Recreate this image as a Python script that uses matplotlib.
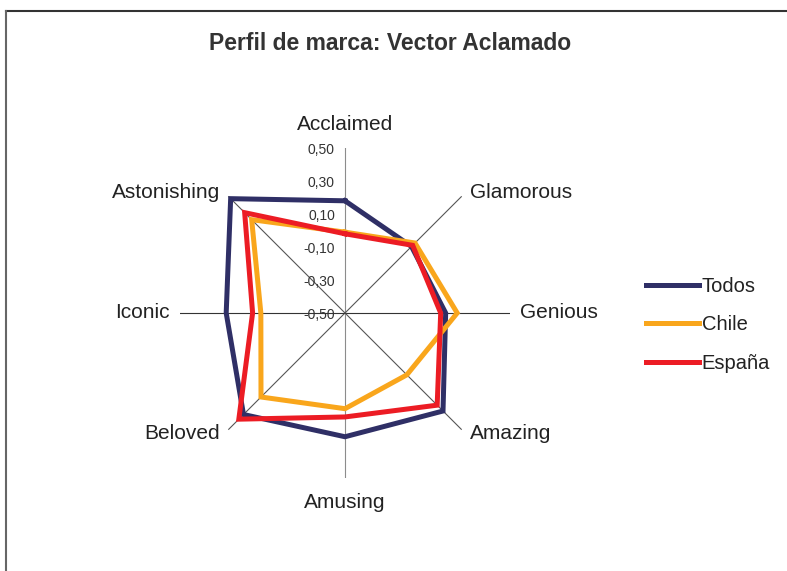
import numpy as np
import matplotlib
matplotlib.use('Agg')
import matplotlib.pyplot as plt
from matplotlib.lines import Line2D

plt.rcParams['font.family'] = ['Liberation Sans', 'DejaVu Sans']

categories = ['Acclaimed', 'Glamorous', 'Genious', 'Amazing', 'Amusing', 'Beloved', 'Iconic', 'Astonishing']
todos = [0.18, 0.07, 0.11, 0.34, 0.25, 0.37, 0.22, 0.48]
chile = [-0.01, 0.10, 0.18, 0.03, 0.08, 0.22, 0.01, 0.30]
espana = [-0.02, 0.08, 0.08, 0.29, 0.13, 0.41, 0.06, 0.36]
tick_values = [-0.5, -0.3, -0.1, 0.1, 0.3, 0.5]
tick_labels = ['-0,50', '-0,30', '-0,10', '0,10', '0,30', '0,50']

series = [('Todos', todos, '#2f2f66'), ('Chile', chile, '#f9a61c'), ('España', espana, '#ec1c24')]

W, H = 787, 571
fig = plt.figure(figsize=(W / 100, H / 100), dpi=100)
cx, cy, R = 345, 313, 165
ax = fig.add_axes([(cx - R) / W, (H - cy - R) / H, 2 * R / W, 2 * R / H], projection='polar')
ax.set_theta_offset(np.pi / 2)
ax.set_theta_direction(-1)
ax.set_rlim(-0.5, 0.5)
ax.grid(False)
ax.set_xticks([])
ax.set_yticks([])
ax.spines['polar'].set_visible(False)
ax.patch.set_alpha(0)

n = len(categories)
theta = np.arange(n) * 2 * np.pi / n

# spokes
spoke_colors = ['#8c8c8c', '#555555', '#333333', '#555555', '#8c8c8c', '#555555', '#333333', '#555555']
for t, c in zip(theta, spoke_colors):
    ax.plot([t, t], [-0.5, 0.5], color=c, lw=0.8, zorder=1)

for name, vals, col in series:
    ax.plot(np.append(theta, theta[0]), vals + vals[:1], color=col, lw=3.6,
            solid_joinstyle='miter', label=name, zorder=3)

# category labels at spoke ends
offsets = [(0, 24, 'center', 'center'), (8, 4, 'left', 'center'), (10, 0, 'left', 'center'),
           (8, -4, 'left', 'center'), (0, -24, 'center', 'center'), (-8, -4, 'right', 'center'),
           (-10, 0, 'right', 'center'), (-8, 4, 'right', 'center')]
for t, lab, (dx, dy, ha, va) in zip(theta, categories, offsets):
    ax.annotate(lab, xy=(t, 0.5), xytext=(dx, dy), textcoords='offset pixels',
                ha=ha, va=va, fontsize=15, color='#222222', annotation_clip=False)

for v, lab in zip(tick_values, tick_labels):
    ax.annotate(lab, xy=(0, v), xytext=(-10, -2), textcoords='offset pixels',
                ha='right', va='center', fontsize=10, color='#333333', annotation_clip=False)

fig.text(390 / W, 1 - 43 / H, 'Perfil de marca: Vector Aclamado', ha='center', va='center',
         fontsize=16.5, fontweight='bold', color='#333333')

handles, labels = ax.get_legend_handles_labels()
fig.legend(handles, labels, loc='center left', bbox_to_anchor=(628 / W, 1 - 325 / H),
           frameon=False, fontsize=14.5, handlelength=2.65, handletextpad=0.1,
           labelspacing=0.95, labelcolor='#222222')

# chart area frame (top and left edges visible)
fy = 1 - 11 / H
fx = 6 / W
fig.add_artist(Line2D([fx, 1], [fy, fy], transform=fig.transFigure, color='#333333', lw=1.5))
fig.add_artist(Line2D([fx, fx], [0, fy], transform=fig.transFigure, color='#666666', lw=1.5))

fig.savefig('out.png', dpi=100)
